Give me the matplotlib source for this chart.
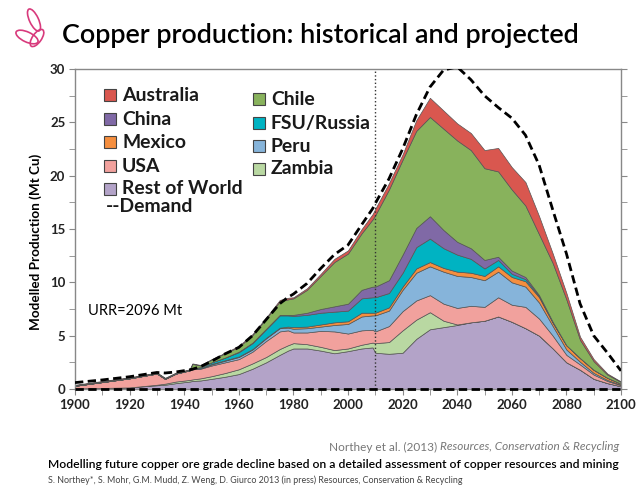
import matplotlib
matplotlib.use('Agg')
import matplotlib.pyplot as plt
import matplotlib.patches as mpatches
from matplotlib.ticker import MultipleLocator

plt.rcParams['font.family'] = ['Lato', 'DejaVu Sans']

# Modelled copper production by country (Mt Cu)
years = [1900, 1910, 1920, 1930, 1933, 1937, 1942, 1943, 1946, 1950, 1955,
         1960, 1965, 1970, 1975, 1978, 1980, 1985, 1990, 1995, 2000, 2005,
         2009, 2010, 2015, 2020, 2025, 2030, 2035, 2040, 2045, 2050, 2055,
         2060, 2065, 2070, 2075, 2080, 2085, 2090, 2095, 2100]

rest_of_world = [.05, .10, .15, .35, .40, .55, .70, .75, .80, .95, 1.15,
                 1.40, 1.90, 2.50, 3.20, 3.60, 3.80, 3.80, 3.60, 3.35, 3.55, 3.80,
                 3.90, 3.40, 3.30, 3.40, 4.70, 5.60, 5.80, 6.00, 6.25, 6.40, 6.80,
                 6.30, 5.70, 5.00, 3.80, 2.50, 1.80, .95, .55, .25]
zambia = [0, 0, 0, .05, .10, .15, .15, .15, .20, .25, .35,
          .45, .50, .50, .55, .50, .50, .40, .35, .30, .25, .35,
          .45, .90, 1.10, 2.10, 1.80, 1.60, .60, .05, 0, 0, 0,
          0, 0, 0, 0, 0, 0, 0, 0, 0]
usa = [.25, .55, .85, 1.05, .45, .75, .90, .95, .90, 1.00, 1.00,
       .95, 1.10, 1.50, 1.65, 1.40, 1.00, 1.10, 1.50, 1.75, 1.40, 1.35,
       1.20, 1.10, 1.50, 1.80, 1.80, 1.60, 1.60, 1.55, 1.55, 1.30, 1.80,
       1.60, 2.00, 1.60, 1.20, .70, .50, .40, .20, .10]
peru = [0, 0, 0, 0, 0, 0, 0, .05, .05, .10, .15,
        .20, .20, .25, .30, .25, .35, .40, .40, .60, .90, 1.30,
        1.35, 1.50, 1.45, 2.00, 2.60, 2.70, 3.00, 3.00, 2.70, 2.50, 2.40,
        2.10, 1.90, 1.50, .90, .50, .25, .15, .10, .05]
mexico = [0, 0, 0, 0, 0, 0, 0, 0, 0, .05, .05,
          .05, .05, .05, .05, .10, .15, .15, .20, .25, .25, .35,
          .25, .25, .30, .30, .40, .40, .35, .40, .40, .40, .50,
          .50, .50, .50, .30, .40, .35, .30, .20, .10]
fsu_russia = [0, 0, 0, 0, 0, 0, 0, .05, .10, .15, .25,
              .40, .55, .80, 1.15, 1.05, 1.05, 1.10, 1.10, 1.00, 1.00, 1.35,
              1.45, 1.45, 1.35, 1.30, 2.00, 2.20, 1.85, 1.60, 1.30, .70, .60,
              .30, .20, .10, .05, 0, 0, 0, 0, 0]
china = [0, 0, 0, 0, 0, 0, 0, 0, 0, 0, 0,
         .05, .05, .05, .05, .05, .10, .20, .35, .50, .65, .80,
         1.00, 1.00, 1.20, 1.70, 1.80, 2.10, 1.70, 1.20, 1.00, .80, .30,
         .30, .20, .10, .05, 0, 0, 0, 0, 0]
chile = [.05, .05, .05, .05, .05, .05, .05, .40, .15, .25, .40,
         .45, .70, .95, 1.25, 1.45, 1.55, 2.15, 3.10, 4.15, 4.70, 5.30,
         6.30, 6.70, 8.50, 8.90, 9.10, 9.30, 9.50, 9.50, 9.20, 8.60, 8.00,
         7.60, 6.70, 5.70, 5.50, 4.30, 1.70, .80, .30, .15]
australia = [.05, .05, .05, .05, .05, .05, .05, .05, .05, .05, .05,
             .10, .10, .10, .15, .15, .10, .15, .20, .30, .30, .40,
             .50, .60, .60, .50, 1.00, 1.80, 1.70, 1.60, 1.60, 1.70, 2.20,
             2.10, 2.20, 1.70, .90, .60, .30, .20, .10, .05]
demand = [.60, .85, 1.15, 1.55, 1.50, 1.60, 1.80, 1.85, 2.10, 2.60, 3.30,
          3.90, 5.00, 6.50, 8.00, 8.60, 8.90, 9.90, 11.30, 12.60, 13.50, 15.40,
          16.90, 17.40, 19.70, 22.50, 25.70, 28.30, 29.90, 30.20, 29.00, 27.50, 26.40,
          25.40, 23.80, 21.00, 16.80, 12.70, 8.00, 5.00, 3.40, 1.70]

layers = [rest_of_world, zambia, usa, peru, mexico, fsu_russia, china, chile, australia]
colormap = {'Rest of World': '#b3a3c8',
            'Zambia': '#b9d8a2',
            'USA': '#f1a19d',
            'Peru': '#86b4da',
            'Mexico': '#f58e3e',
            'FSU/Russia': '#00b3c2',
            'China': '#8069a6',
            'Chile': '#88b25c',
            'Australia': '#d9574f'}

W, H = 640, 499
fig = plt.figure(figsize=(W / 100, H / 100), dpi=100)


def fx(x):
    return x / W


def fy(y):
    return 1 - y / H


def fit_width(t, target, vertical=False):
    fig.canvas.draw()
    bb = t.get_window_extent()
    w = bb.height if vertical else bb.width
    t.set_fontsize(t.get_fontsize() * target / w)
    return t.get_fontsize()


# page overlay for logo and texts (pixel coords)
bg = fig.add_axes((0, 0, 1, 1))
bg.set_xlim(0, W)
bg.set_ylim(H, 0)
bg.axis('off')
pink = '#d83a7c'
for (cx, cy, w, h, a) in [(34, 20, 9, 24, -25), (27, 37, 24, 10, 25), (37, 38, 9, 20, 35)]:
    bg.add_patch(mpatches.Ellipse((cx, cy), w, h, angle=a, fill=False, ec=pink, lw=1.2))

title = fig.text(fx(62), fy(35), 'Copper production: historical and projected',
                 fontsize=18, fontweight='semibold', va='center', ha='left')
fit_width(title, 518)

# main chart
ax = fig.add_axes((fx(75), fy(389), 546 / W, 320 / H))
ax.patch.set_visible(False)
ax.stackplot(years, *layers, colors=list(colormap.values()),
             edgecolor='#555555', linewidth=0.5)
ax.plot(years, demand, color='black', ls=(0, (3, 1.6)), lw=2, zorder=5)
ax.plot([1900, 2100], [0, 0], color='black', ls=(0, (3, 1.6)), lw=2,
        zorder=5, clip_on=False)
ax.axvline(2010, color='#333333', ls=':', lw=1, zorder=4)

ax.set_xlim(1900, 2100)
ax.set_ylim(0, 30)
ax.set_xticks(range(1900, 2101, 20))
ax.xaxis.set_minor_locator(MultipleLocator(10))
ax.set_yticks(range(0, 31, 5))
ax.yaxis.set_minor_locator(MultipleLocator(2.5))
ax.tick_params(which='both', direction='out', right=True, color='#888888',
               labelsize=9.5, pad=3, length=4)
for lbl in ax.get_xticklabels() + ax.get_yticklabels():
    lbl.set_fontweight('bold')
    lbl.set_color('#222222')
for sp in ax.spines.values():
    sp.set_color('#888888')
    sp.set_linewidth(1)

ylab = fig.text(fx(36), fy(242), 'Modelled Production (Mt Cu)', fontsize=9,
                fontweight='bold', rotation=90, va='center', ha='center')
fit_width(ylab, 176, vertical=True)

ax.text(1904.8, 7.3, 'URR=2096 Mt', fontsize=10.5, va='center', ha='left')

# legend
probe = bg.text(122, 189, 'Rest of World', fontsize=12.5, fontweight='bold',
                va='center', ha='left')
leg_size = fit_width(probe, 121)
probe.remove()
col1 = [('Australia', 95), ('China', 119), ('Mexico', 142), ('USA', 166), ('Rest of World', 189)]
col2 = [('Chile', 99), ('FSU/Russia', 123), ('Peru', 146), ('Zambia', 169)]
for items, px0 in [(col1, 104), (col2, 253)]:
    for name, yc in items:
        bg.add_patch(mpatches.Rectangle((px0, yc - 6), 12, 12, fc=colormap[name],
                                        ec='#444444', lw=0.8))
        bg.text(px0 + 18, yc, name, fontsize=leg_size, fontweight='bold',
                va='center', ha='left', color='#1a1a1a')
bg.text(106, 207, '--Demand', fontsize=leg_size, fontweight='bold', va='center',
        ha='left', color='#1a1a1a')

# citation texts
ital = fig.text(fx(619), fy(447), 'Resources, Conservation & Recycling', fontsize=8.5,
                style='italic', color='#777777', ha='right', va='center')
fig.canvas.draw()
x_ital = ital.get_window_extent().x0
fig.text(x_ital / W, fy(447), 'Northey et al. (2013) ', fontsize=8.5,
         color='#777777', ha='right', va='center')
t2 = fig.text(fx(48), fy(465), 'Modelling future copper ore grade decline based on a detailed '
              'assessment of copper resources and mining', fontsize=8, fontweight='semibold',
              ha='left', va='center')
fit_width(t2, 569)
t3 = fig.text(fx(48), fy(480), 'S. Northey*, S. Mohr, G.M. Mudd, Z. Weng, D. Giurco 2013 '
              '(in press) Resources, Conservation & Recycling', fontsize=7.5,
              color='#444444', ha='left', va='center')
fit_width(t3, 414)

fig.savefig('out.png', dpi=100)
